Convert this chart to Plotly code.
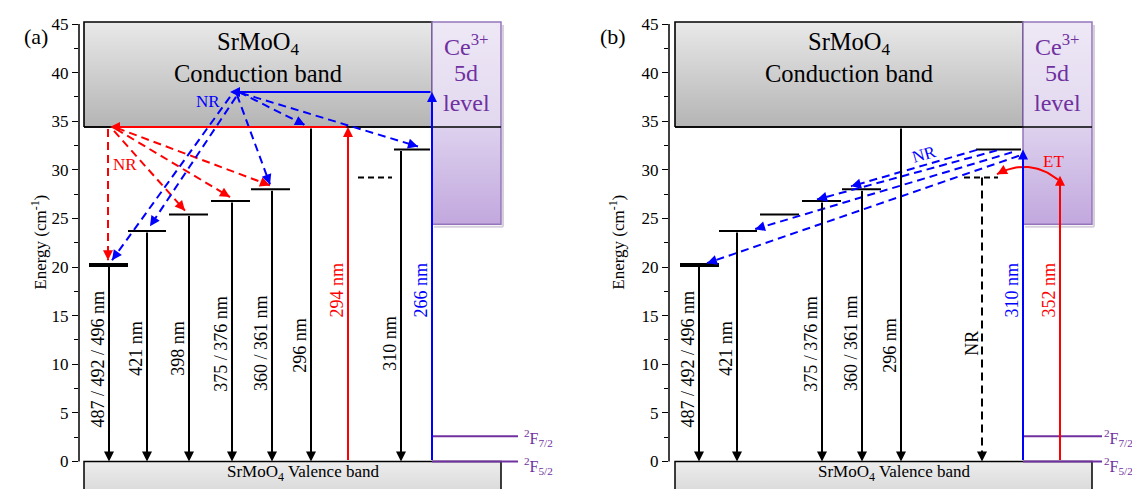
import math
import plotly.graph_objects as go

# ---------------- data (energies in 10^3 cm^-1) ----------------
CB_EDGE = 34.4            # SrMoO4 conduction-band bottom
BOX_TOP = 45.2            # top of drawn bands
CE_5D_LOW = 24.4          # lower edge of the Ce3+ 5d band
F72_LEVEL = 2.6           # Ce3+ 2F7/2
F52_LEVEL = 0.0           # Ce3+ 2F5/2
VB_BOTTOM = -6.0

defect_levels = [20.2, 23.7, 25.4, 26.8, 28.0]
dashed_level = 29.2
level_32 = 32.1
exc_266 = 38.0            # panel (a) blue excitation
exc_294 = CB_EDGE         # panel (a) red excitation
exc_310 = level_32        # panel (b) blue excitation
exc_352 = 29.4            # panel (b) red excitation

emis_labels_a = ["487 / 492 / 496 nm", "421 nm", "398 nm", "375 / 376 nm", "360 / 361 nm"]
emis_labels_b = ["487 / 492 / 496 nm", "421 nm", None, "375 / 376 nm", "360 / 361 nm"]
emis_label_y = [10.5, 11.6, 11.6, 12.1, 12.2]
label_296, label_296_y = "296 nm", 11.9
label_310, label_310_y = "310 nm", 12.1
exc_label_y = 17.6

tick_vals = [0, 5, 10, 15, 20, 25, 30, 35, 40, 45]
minor_vals = [2.5, 7.5, 12.5, 17.5, 22.5, 27.5, 32.5, 37.5, 42.5]

# ---------------- layout / style constants ----------------
FONT = "Liberation Serif"
PURPLE = "#7030A0"
RED = "#FF0000"
BLUE = "#0000FF"
OFF = 8                                  # page body margin
W, H = 1140 - OFF, 489 - OFF
YPX = 437.5 / 45.0                       # px per energy unit
Y_RANGE = [-27.5 / YPX, 45 + (24 - OFF) / YPX]
DASH = "8px,5px"

LEVEL_SPANS = [(5, 44), (44, 82), (85, 124), (127, 166), (167, 206)]
EMIS_X = [25, 63, 105, 148, 188]
LBL_OFF = -11

fig = go.Figure()


def seg(xa, ya, xs, ys, color, width, dash=None):
    fig.add_trace(go.Scatter(x=xs, y=ys, mode="lines",
                             line=dict(color=color, width=width, dash=dash),
                             hoverinfo="skip", showlegend=False, xaxis=xa, yaxis=ya))


def box(xa, ya, x0, x1, y0, y1, c_bot, c_top, lc, lw):
    fig.add_trace(go.Scatter(x=[x0, x1, x1, x0, x0], y=[y0, y0, y1, y1, y0], mode="lines",
                             fill="toself",
                             fillgradient=dict(type="vertical", colorscale=[[0, c_bot], [1, c_top]]),
                             line=dict(color=lc, width=lw),
                             hoverinfo="skip", showlegend=False, xaxis=xa, yaxis=ya))


def head(xa, ya, xt, yt, x1, y1, color, width=2, full=True):
    if not full:
        dxp = x1 - xt
        dyp = (y1 - yt) * YPX
        L = math.hypot(dxp, dyp)
        xt = x1 - 9 * dxp / L
        yt = y1 - 9 * dyp / L / YPX
    fig.add_annotation(x=x1, y=y1, ax=xt, ay=yt, xref=xa, yref=ya, axref=xa, ayref=ya,
                       text="", showarrow=True, arrowhead=2, arrowsize=1,
                       arrowwidth=width, arrowcolor=color)


def arrow(xa, ya, x0, y0, x1, y1, color, width=2, dashed=False):
    if dashed:
        seg(xa, ya, [x0, x1], [y0, y1], color, width, dash=DASH)
        head(xa, ya, x0, y0, x1, y1, color, width, full=False)
    else:
        head(xa, ya, x0, y0, x1, y1, color, width, full=True)


def txt(xa, ya, x, y, s, color="black", size=18, angle=0, xanchor="center"):
    fig.add_annotation(x=x, y=y, xref=xa, yref=ya, text=s, showarrow=False, textangle=angle,
                       font=dict(family=FONT, size=size, color=color),
                       xanchor=xanchor, yanchor="middle", borderpad=0)


def common(xa, ya, f_end, f_lbl):
    box(xa, ya, 0, 417, VB_BOTTOM, 0, "#c8c8c8", "#ededed", "black", 1.5)
    box(xa, ya, 0, 348, CB_EDGE, BOX_TOP, "#b4b4b4", "#e9e9e9", "black", 1.6)
    seg(xa, ya, [350, 419], [CE_5D_LOW - 0.25, CE_5D_LOW - 0.25], "#d6d0dc", 2)
    seg(xa, ya, [419, 419], [CE_5D_LOW - 0.25, BOX_TOP - 0.3], "#d6d0dc", 2)
    box(xa, ya, 348, 417, CB_EDGE, BOX_TOP, "#e2d8ef", "#eee8f6", "rgba(0,0,0,0)", 0)
    box(xa, ya, 348, 417, CE_5D_LOW, CB_EDGE, "#c2a8de", "#ddd1ee", "rgba(0,0,0,0)", 0)
    seg(xa, ya, [348, 417, 417, 348, 348], [CE_5D_LOW, CE_5D_LOW, BOX_TOP, BOX_TOP, CE_5D_LOW],
        "#9576bc", 1.5)
    seg(xa, ya, [0, 417], [CB_EDGE, CB_EDGE], "black", 1.5)
    seg(xa, ya, [348, f_end], [F72_LEVEL, F72_LEVEL], PURPLE, 2)
    seg(xa, ya, [348, f_end], [F52_LEVEL, F52_LEVEL], PURPLE, 2)
    txt(xa, ya, f_lbl, F72_LEVEL - 0.2, "<sup>2</sup>F<sub>7/2</sub>", PURPLE, 16, xanchor="left")
    txt(xa, ya, f_lbl, F52_LEVEL - 0.5, "<sup>2</sup>F<sub>5/2</sub>", PURPLE, 16, xanchor="left")
    txt(xa, ya, 219, -1.2, "SrMoO<sub>4</sub> Valence band", "black", 17)
    txt(xa, ya, 174, 43.0, "SrMoO<sub>4</sub>", "black", 24.5)
    txt(xa, ya, 174, 39.9, "Conduction band", "black", 24.5)
    txt(xa, ya, 382, 42.8, "Ce<sup>3+</sup>", PURPLE, 24)
    txt(xa, ya, 382, 40.0, "5d", PURPLE, 24)
    txt(xa, ya, 382, 36.9, "level", PURPLE, 24)
    for i, (e, (x0, x1)) in enumerate(zip(defect_levels, LEVEL_SPANS)):
        seg(xa, ya, [x0, x1], [e, e], "black", 4 if i == 0 else 2)


# ======================= panel (a) =======================
xa, ya = "x", "y"
common(xa, ya, 434, 439)
seg(xa, ya, [274, 308], [dashed_level, dashed_level], "black", 2, dash="6px,4px")
seg(xa, ya, [310, 346], [level_32, level_32], "black", 2)
for e, x, lab, ly in zip(defect_levels, EMIS_X, emis_labels_a, emis_label_y):
    arrow(xa, ya, x, e, x, 0, "black")
    txt(xa, ya, x + LBL_OFF, ly, lab, angle=-90)
arrow(xa, ya, 227, CB_EDGE, 227, 0, "black")
txt(xa, ya, 227 + LBL_OFF, label_296_y, label_296, angle=-90)
arrow(xa, ya, 317, level_32, 317, 0, "black")
txt(xa, ya, 317 + LBL_OFF, label_310_y, label_310, angle=-90)
# red 294 nm excitation and relaxation
arrow(xa, ya, 264, 0, 264, exc_294, RED)
arrow(xa, ya, 264, exc_294, 26, exc_294, RED)
txt(xa, ya, 264 + LBL_OFF, exc_label_y, "294 nm", RED, angle=-90)
arrow(xa, ya, 24, CB_EDGE - 0.2, 24, defect_levels[0] + 0.5, RED, dashed=True)
for e, xs, ys, xt in [(defect_levels[2], 30, 34.0, 101), (defect_levels[3], 32, 34.2, 146),
                      (defect_levels[4], 33, 34.3, 186)]:
    arrow(xa, ya, xs, ys, xt, e + 0.4, RED, dashed=True)
txt(xa, ya, 41, 30.6, "NR", RED, 17)
# blue 266 nm excitation and relaxation
arrow(xa, ya, 348, 0, 348, exc_266, BLUE)
arrow(xa, ya, 348, exc_266, 146, exc_266, BLUE)
txt(xa, ya, 348 + LBL_OFF, exc_label_y, "266 nm", BLUE, angle=-90)
for xs, ys, xt, yt in [(146, 37.5, 28, defect_levels[0] + 0.5),
                       (152, 37.5, 66, defect_levels[1] + 0.5),
                       (153, 37.7, 186, defect_levels[4] + 0.5),
                       (155, 38.0, 221, CB_EDGE + 0.2),
                       (157, 37.9, 334, level_32 + 0.3)]:
    arrow(xa, ya, xs, ys, xt, yt, BLUE, dashed=True)
txt(xa, ya, 123.5, 37.0, "NR", BLUE, 17)

# ======================= panel (b) =======================
xa, ya = "x2", "y2"
common(xa, ya, 427, 428)
seg(xa, ya, [289, 323], [dashed_level, dashed_level], "black", 2, dash="6px,4px")
seg(xa, ya, [301, 346], [level_32, level_32], "black", 2)
for e, x, lab, ly in zip(defect_levels, EMIS_X, emis_labels_b, emis_label_y):
    if lab is None:
        continue
    arrow(xa, ya, x - 1, e, x - 1, 0, "black")
    txt(xa, ya, x - 1 + LBL_OFF, ly, lab, angle=-90)
arrow(xa, ya, 226, CB_EDGE, 226, 0, "black")
txt(xa, ya, 226 + LBL_OFF, label_296_y, label_296, angle=-90)
arrow(xa, ya, 307, dashed_level, 307, 0, "black", dashed=True)
txt(xa, ya, 297, 12.1, "NR", "black", 18, angle=-90)
arrow(xa, ya, 348, 0, 348, exc_310, BLUE)
txt(xa, ya, 348 + LBL_OFF, exc_label_y, "310 nm", BLUE, angle=-90)
arrow(xa, ya, 385, 0, 385, exc_352, RED)
txt(xa, ya, 385 + LBL_OFF, exc_label_y, "352 nm", RED, angle=-90)
# ET curved arrow (quadratic Bezier)
p0, pc, p1 = (383, exc_352 - 0.4), (354, 31.3), (322, dashed_level + 0.35)
ts = [i / 30 for i in range(31)]
bx = [(1 - t) ** 2 * p0[0] + 2 * (1 - t) * t * pc[0] + t ** 2 * p1[0] for t in ts]
by = [(1 - t) ** 2 * p0[1] + 2 * (1 - t) * t * pc[1] + t ** 2 * p1[1] for t in ts]
seg(xa, ya, bx, by, RED, 2)
head(xa, ya, pc[0], pc[1], p1[0], p1[1], RED, 2, full=False)
txt(xa, ya, 378, 30.9, "ET", RED, 17)
for xs, ys, xt, yt in [(302, 32.05, 176, defect_levels[4] + 0.3),
                       (322, 32.0, 142, defect_levels[3] + 0.15),
                       (337, 31.8, 80, defect_levels[1] + 0.2),
                       (344, 31.45, 32, defect_levels[0] + 0.2)]:
    arrow(xa, ya, xs, ys, xt, yt, BLUE, dashed=True)
txt(xa, ya, 249, 31.6, "NR", BLUE, 17, angle=-16)

# ---------------- axes ----------------
yax = dict(range=Y_RANGE, domain=[0, 1], showgrid=False, zeroline=False, showline=False,
           tickmode="array", tickvals=tick_vals, ticks="outside", ticklen=6, tickwidth=1.3,
           tickcolor="black", tickfont=dict(family=FONT, size=17, color="black"),
           minor=dict(tickmode="array", tickvals=minor_vals, ticks="outside", ticklen=4,
                      tickwidth=1.3, tickcolor="black"),
           fixedrange=True, automargin=False)
fig.update_layout(
    width=W, height=H, margin=dict(l=0, r=0, t=0, b=0),
    plot_bgcolor="white", paper_bgcolor="white", showlegend=False,
    xaxis=dict(domain=[(79 - OFF) / W, (560 - OFF) / W], range=[-5, 476], visible=False,
               fixedrange=True),
    xaxis2=dict(domain=[(669 - OFF) / W, 1.0], range=[-6, 465], visible=False, fixedrange=True),
    yaxis=dict(anchor="x", **yax),
    yaxis2=dict(anchor="x2", **yax),
)
for xr, yr in [("x domain", "y"), ("x2 domain", "y2")]:
    fig.add_shape(type="line", xref=xr, yref=yr, x0=0, x1=0, y0=0, y1=45,
                  line=dict(color="black", width=1.5))

for px, yr in [(26, "y"), (617, "y2")]:
    fig.add_annotation(x=(px - OFF) / W, xref="paper", y=22.5, yref=yr,
                       text="Energy (cm<sup>-1</sup>)", textangle=-90, showarrow=False,
                       font=dict(family=FONT, size=17, color="black"))
for px, lab in [(22, "(a)"), (613, "(b)")]:
    fig.add_annotation(x=(px - OFF) / W, xref="paper", y=1 - (22 - OFF) / H, yref="paper",
                       text=lab, showarrow=False, font=dict(family=FONT, size=22, color="black"))

fig.write_html("out.html")
